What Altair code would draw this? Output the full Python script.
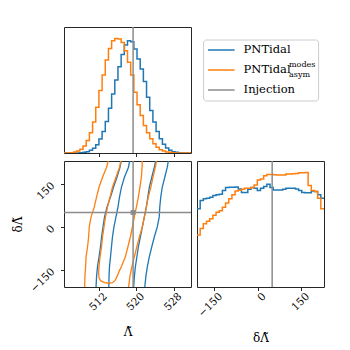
import altair as alt
import numpy as np
import pandas as pd

FONT = "DejaVu Serif"
BLUE = "#1f77b4"
ORANGE = "#ff7f0e"
GREY = "#8c8c8c"
FRAME = "#262626"

series_names = ["PNTidal", "PNTidal_modes_asym"]
legend_main = ["PNTidal", "PNTidal", "Injection"]
legend_sup = ["", "modes", ""]
legend_sub = ["", "asym", ""]
legend_colors = [BLUE, ORANGE, GREY]

lam_range = [504.5, 531.7]
dlam_range = [-210.0, 228.5]
lam_ticks = [512, 520, 528]
dlam_ticks = [-150, 0, 150]
lam_inj = 519.3
dlam_inj = 49.5

# marginal histogram of Lambda-tilde (40 bins over lam_range)
lam_hist_blue = [0, 0, 0, 0, 0, 1, 2, 4, 8, 14, 25, 42, 65, 95, 135, 178, 220, 260, 297, 325,
                 338, 335, 313, 283, 253, 215, 168, 128, 93, 65, 43, 26, 15, 8, 4, 2, 1, 0, 0, 0]
lam_hist_orange = [0, 0, 1, 3, 6, 11, 21, 38, 61, 93, 138, 188, 235, 280, 315, 338, 345, 343, 333, 308,
                   273, 235, 183, 145, 113, 83, 61, 43, 28, 17, 10, 6, 3, 2, 1, 0, 0, 0, 0, 0]

# marginal histogram of delta Lambda-tilde (40 bins over dlam_range)
dlam_hist_blue = [238, 263, 268, 270, 273, 278, 280, 282, 293, 302, 303, 303, 304, 298, 287, 287, 297, 302, 300, 293,
                  300, 305, 312, 302, 295, 295, 295, 297, 300, 300, 300, 298, 293, 287, 286, 286, 292, 290, 280, 270]
dlam_hist_orange = [158, 178, 192, 200, 207, 218, 227, 232, 242, 255, 268, 280, 292, 294, 297, 300, 300, 302, 310, 325,
                    328, 338, 342, 342, 341, 340, 340, 340, 343, 343, 344, 345, 347, 347, 348, 308, 293, 290, 270, 238]

# 2D credible contours: Lambda-tilde of left/right edges at these delta Lambda-tilde levels
contour_levels = [240, 206, 172, 137, 103, 68, 34, -1, -36, -70, -105, -139, -174, -225]
blue_outer_left = [516.91, 516.48, 515.84, 515.10, 514.46, 513.71, 513.18, 512.86, 512.54, 512.32, 512.00, 511.68, 511.47, 511.32]
blue_outer_right = [526.97, 526.61, 526.08, 525.54, 525.22, 525.01, 524.90, 524.48, 523.84, 523.30, 522.77, 522.35, 522.03, 521.71]
blue_inner_left = [518.72, 518.29, 517.44, 516.80, 516.38, 516.06, 515.63, 515.20, 514.88, 514.67, 514.46, 514.24, 514.14, 514.09]
blue_inner_right = [524.26, 523.84, 523.30, 522.77, 522.45, 522.13, 521.71, 521.28, 520.85, 520.43, 520.11, 519.79, 519.57, 519.36]
orange_outer_left = [514.18, 513.60, 512.75, 512.00, 511.47, 510.98, 510.30, 509.91, 509.77, 509.55, 509.23, 509.13, 508.98, 508.91]
orange_outer_right = [524.48, 524.05, 523.56, 523.09, 522.56, 522.13, 521.71, 521.28, 520.64, 520.10, 519.57, 519.04, 518.61, 518.23]
orange_inner_lam = [516.80, 516.38, 515.63, 514.88, 514.35, 513.82, 513.39, 513.07, 512.75, 512.54, 512.22, 512.00,
                    511.90, 512.00, 512.32, 513.18, 514.03, 514.88, 515.42, 515.84, 516.38, 516.80, 517.65, 518.19,
                    518.72, 519.15, 519.57, 520.00, 520.43, 520.75, 521.07, 521.22, 521.28]
orange_inner_dl = [240, 206, 172, 137, 103, 68, 34, -1, -36, -70, -105, -139, -160, -177, -188, -195, -197, -195,
                   -188, -174, -153, -139, -105, -70, -36, -1, 34, 68, 103, 137, 172, 206, 240]


def step_df(vals, lo, hi, name):
    edges = np.linspace(lo, hi, len(vals) + 1)
    ys = list(vals) + [vals[-1]]
    return pd.DataFrame({"x": edges, "y": ys, "series": name})


df_lam = pd.concat([step_df(lam_hist_blue, *lam_range, series_names[0]),
                    step_df(lam_hist_orange, *lam_range, series_names[1])])
df_dlam = pd.concat([step_df(dlam_hist_blue, *dlam_range, series_names[0]),
                     step_df(dlam_hist_orange, *dlam_range, series_names[1])])

rows = []
for series, cid, left, right in [
    (series_names[0], "b_out", blue_outer_left, blue_outer_right),
    (series_names[0], "b_in", blue_inner_left, blue_inner_right),
    (series_names[1], "o_out", orange_outer_left, orange_outer_right),
]:
    pts = list(zip(left, contour_levels)) + list(zip(right[::-1], contour_levels[::-1]))
    for k, (l, d) in enumerate(pts):
        rows.append({"lam": l, "dl": d, "series": series, "cid": cid, "ord": k})
for k, (l, d) in enumerate(zip(orange_inner_lam, orange_inner_dl)):
    rows.append({"lam": l, "dl": d, "series": series_names[1], "cid": "o_in", "ord": k})
df_cont = pd.DataFrame(rows)

W, H = 127, 126
color = alt.Color("series:N", scale=alt.Scale(domain=series_names, range=[BLUE, ORANGE]), legend=None)

lam_scale = alt.Scale(domain=lam_range, nice=False, zero=False)
dl_scale = alt.Scale(domain=dlam_range, nice=False, zero=False)

# ---- top-left: Lambda histogram
x_top = alt.X("x:Q", scale=lam_scale, axis=alt.Axis(values=lam_ticks, labels=False, title=None))
top_lines = alt.Chart(df_lam).mark_line(interpolate="step-after", strokeWidth=1.5, clip=True).encode(
    x=x_top,
    y=alt.Y("y:Q", scale=alt.Scale(domain=[0, 1.1 * max(lam_hist_orange)], nice=False), axis=None),
    color=color,
)
top_inj = alt.Chart(pd.DataFrame({"x": [lam_inj]})).mark_rule(color=GREY, strokeWidth=1.5).encode(x=x_top)
top_hist = alt.layer(top_lines, top_inj).properties(width=W, height=H)

# ---- top-right: legend panel
legend_df = pd.DataFrame({"idx": [0, 1, 2], "main": legend_main, "sup": legend_sup,
                          "sub": legend_sub, "color": legend_colors})
ly = alt.Y("idx:Q", scale=alt.Scale(domain=[0, 2], range=[23, 63]), axis=None)
box = alt.Chart(pd.DataFrame({"k": [0]})).mark_rect(
    fill="white", stroke="#cccccc", strokeWidth=1, cornerRadius=3
).encode(x=alt.value(6.6), x2=alt.value(121.6), y=alt.value(13), y2=alt.value(74))
handles = alt.Chart(legend_df).mark_rule(strokeWidth=1.5).encode(
    x=alt.value(11), x2=alt.value(37.6), y=ly, color=alt.Color("color:N", scale=None))
ltext = alt.Chart(legend_df).mark_text(align="left", baseline="middle", font=FONT, fontSize=11.5,
                                       color="black").encode(x=alt.value(46.6), y=ly, text="main:N")
lsup = alt.Chart(legend_df).mark_text(align="left", baseline="middle", font=FONT, fontSize=8,
                                      color="black", dy=-5).encode(x=alt.value(92), y=ly, text="sup:N")
lsub = alt.Chart(legend_df).mark_text(align="left", baseline="middle", font=FONT, fontSize=8,
                                      color="black", dy=4.5).encode(x=alt.value(92), y=ly, text="sub:N")
legend_panel = alt.layer(box, handles, ltext, lsup, lsub).properties(
    width=W, height=H, view=alt.ViewBackground(stroke="transparent"))

# ---- bottom-left: 2D contours
x_c = alt.X("lam:Q", scale=lam_scale,
            axis=alt.Axis(values=lam_ticks, labelAngle=315, labelAlign="right", labelBaseline="middle",
                          labelOffset=6, labelPadding=4, title="Λ̃", titlePadding=14))
y_c = alt.Y("dl:Q", scale=dl_scale,
            axis=alt.Axis(values=dlam_ticks, labelAngle=315, labelAlign="right", labelBaseline="middle",
                          labelFlush=False, labelPadding=8, title="δΛ̃", titlePadding=4))
cont_lines = alt.Chart(df_cont).mark_line(strokeWidth=1.3, clip=True).encode(
    x=x_c, y=y_c, color=color, detail="cid:N", order="ord:Q")
inj_df = pd.DataFrame({"lam": [lam_inj], "dl": [dlam_inj]})
c_vrule = alt.Chart(inj_df).mark_rule(color=GREY, strokeWidth=1.5).encode(x=x_c)
c_hrule = alt.Chart(inj_df).mark_rule(color=GREY, strokeWidth=1.5).encode(y=y_c)
c_pt = alt.Chart(inj_df).mark_square(color=GREY, size=24, opacity=1).encode(x=x_c, y=y_c)
contour = alt.layer(cont_lines, c_vrule, c_hrule, c_pt).properties(width=W, height=H)

# ---- bottom-right: delta Lambda histogram
x_r = alt.X("x:Q", scale=dl_scale,
            axis=alt.Axis(values=dlam_ticks, labelAngle=315, labelAlign="right", labelBaseline="middle",
                          labelFlush=False, labelOffset=6, labelPadding=4, title="δΛ̃", titlePadding=14))
r_lines = alt.Chart(df_dlam).mark_line(interpolate="step-after", strokeWidth=1.5, clip=True).encode(
    x=x_r,
    y=alt.Y("y:Q", scale=alt.Scale(domain=[0, 1.1 * max(dlam_hist_orange)], nice=False), axis=None),
    color=color,
)
r_inj = alt.Chart(pd.DataFrame({"x": [dlam_inj]})).mark_rule(color=GREY, strokeWidth=1.5).encode(x=x_r)
right_hist = alt.layer(r_lines, r_inj).properties(width=W, height=H)

chart = alt.concat(
    top_hist, legend_panel, contour, right_hist,
    columns=2, spacing={"row": 8, "column": 6}, bounds="flush",
).properties(
    padding={"left": 3, "top": 17, "right": 5, "bottom": 5}
).configure_view(
    stroke=FRAME, strokeWidth=1
).configure_axis(
    labelFont=FONT, labelFontSize=10.5, labelColor="black",
    titleFont=FONT, titleFontSize=12, titleColor="black", titleFontWeight="normal",
    tickColor=FRAME, tickWidth=1, tickSize=3.5, domain=False, grid=False, labelOverlap=False,
)

chart.save("out.html", embed_options={"renderer": "svg", "actions": False})
